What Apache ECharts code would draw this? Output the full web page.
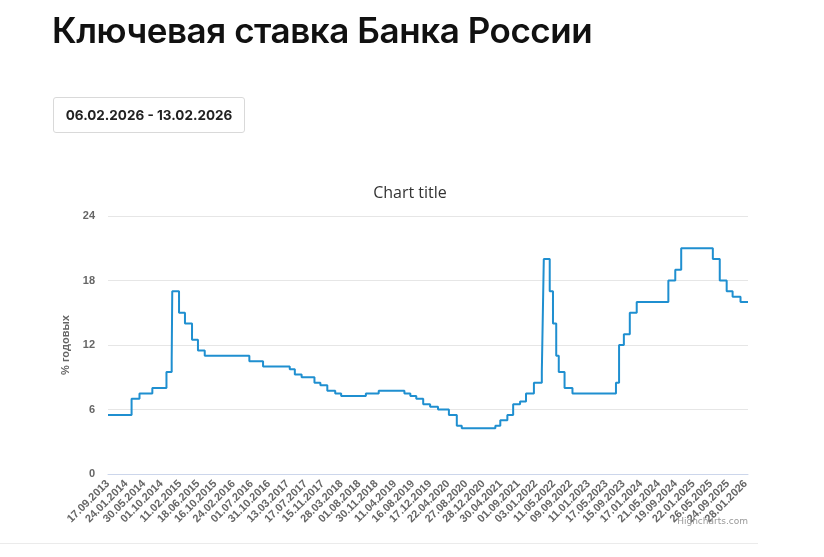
<!DOCTYPE html>
<html>
<head>
<meta charset="utf-8">
<script src="https://cdn.jsdelivr.net/npm/echarts@6/dist/echarts.min.js"></script>
<style>
  html, body { margin: 0; padding: 0; background: #fff; }
  .page { position: relative; width: 824px; height: 557px; overflow: hidden; }
  .page-title {
    position: absolute; left: 52px; top: 9px; margin: 0;
    font-family: Inter, "Noto Sans", sans-serif; font-size: 35px; font-weight: 600;
    color: #111; letter-spacing: -0.45px; white-space: nowrap; z-index: 2;
  }
  .period {
    position: absolute; left: 53px; top: 97px; width: 190px; height: 34px;
    border: 1px solid #d9d9d9; border-radius: 3px; box-sizing: content-box;
    font-family: Inter, "Noto Sans", sans-serif; font-size: 13.5px; font-weight: 700;
    color: #222; line-height: 34px; text-align: center; z-index: 2;
  }
  .sep { position: absolute; left: 0; top: 543px; width: 758px; height: 1px; background: #ebebeb; }
  #rateChart { position: absolute; left: 0; top: 0; width: 824px; height: 557px; }
</style>
</head>
<body>
<div class="page">
  <div id="rateChart"></div>
  <h1 class="page-title">Ключевая ставка Банка России</h1>
  <div class="period">06.02.2026 - 13.02.2026</div>
  <div class="sep"></div>
</div>
<script>
  // даты изменения ключевой ставки и её значения, % годовых
  const rateDates = ['2013-09-17', '2014-03-03', '2014-04-28', '2014-07-28', '2014-11-05', '2014-12-12', '2014-12-16',
    '2015-02-02', '2015-03-16', '2015-05-05', '2015-06-16', '2015-08-03', '2016-06-14', '2016-09-19',
    '2017-03-27', '2017-05-02', '2017-06-19', '2017-09-18', '2017-10-30', '2017-12-18', '2018-02-12',
    '2018-03-26', '2018-09-17', '2018-12-17', '2019-06-17', '2019-07-29', '2019-09-09', '2019-10-28',
    '2019-12-16', '2020-02-10', '2020-04-27', '2020-06-22', '2020-07-27', '2021-03-22', '2021-04-26',
    '2021-06-15', '2021-07-26', '2021-09-13', '2021-10-25', '2021-12-20', '2022-02-14', '2022-02-28',
    '2022-04-11', '2022-05-04', '2022-05-27', '2022-06-14', '2022-07-25', '2022-09-19', '2023-07-24',
    '2023-08-15', '2023-09-18', '2023-10-30', '2023-12-18', '2024-07-29', '2024-09-16', '2024-10-28',
    '2025-06-09', '2025-07-28', '2025-09-15', '2025-10-27', '2025-12-22', '2026-02-13'];
  const rateValues = [5.5, 7, 7.5, 8, 9.5, 10.5, 17,
    15, 14, 12.5, 11.5, 11, 10.5, 10,
    9.75, 9.25, 9, 8.5, 8.25, 7.75, 7.5,
    7.25, 7.5, 7.75, 7.5, 7.25, 7, 6.5,
    6.25, 6, 5.5, 4.5, 4.25, 4.5, 5,
    5.5, 6.5, 6.75, 7.5, 8.5, 9.5, 20,
    17, 14, 11, 9.5, 8, 7.5, 8.5,
    12, 13, 15, 16, 18, 19, 21,
    20, 18, 17, 16.5, 16, 16];

  // подписи оси X
  const tickDates = ['2013-09-17', '2014-01-24', '2014-05-30', '2014-10-01', '2015-02-11', '2015-06-18',
    '2015-10-16', '2016-02-24', '2016-07-01', '2016-10-31', '2017-03-13', '2017-07-17', '2017-11-15',
    '2018-03-28', '2018-08-01', '2018-11-30', '2019-04-11', '2019-08-16', '2019-12-17', '2020-04-22',
    '2020-08-27', '2020-12-28', '2021-04-30', '2021-09-01', '2022-01-03', '2022-05-11', '2022-09-09',
    '2023-01-11', '2023-05-17', '2023-09-15', '2024-01-17', '2024-05-21', '2024-09-19', '2025-01-22',
    '2025-05-26', '2025-09-24', '2026-01-28'];
  const yTicks = [0, 6, 12, 18, 24];

  function toTime(s) {
    let p = s.split('-');
    return new Date(+p[0], +p[1] - 1, +p[2]).getTime();
  }
  function fmt(v) {
    let d = new Date(v);
    let pad = (n) => (n < 10 ? '0' : '') + n;
    return pad(d.getDate()) + '.' + pad(d.getMonth() + 1) + '.' + d.getFullYear();
  }

  let labelColor = '#666666';
  let labelFont = '"Liberation Sans", Arial, sans-serif';
  let myChart = echarts.init(document.getElementById('rateChart'));
  myChart.setOption({
    animation: false,
    title: {
      text: 'Chart title',
      left: 405,
      textAlign: 'center',
      top: 180,
      textStyle: { color: '#333333', fontSize: 16, fontWeight: 'normal', fontFamily: '"Open Sans", sans-serif' }
    },
    grid: { left: 108, right: 76, top: 216, bottom: 83 },
    xAxis: {
      type: 'value',
      min: toTime(rateDates[0]),
      max: toTime(rateDates[rateDates.length - 1]),
      axisLine: { lineStyle: { color: '#ccd6eb' } },
      axisTick: { show: false },
      splitLine: { show: false },
      axisLabel: {
        customValues: tickDates.map(toTime),
        rotate: 45,
        margin: 8,
        showMinLabel: true,
        showMaxLabel: true,
        color: labelColor,
        fontSize: 11,
        fontWeight: 'bold',
        fontFamily: labelFont,
        formatter: (v) => fmt(v)
      }
    },
    yAxis: {
      type: 'value',
      min: yTicks[0],
      max: yTicks[yTicks.length - 1],
      interval: 6,
      name: '% годовых',
      nameLocation: 'middle',
      nameRotate: 90,
      nameGap: 31,
      nameTextStyle: { color: labelColor, fontSize: 11, fontWeight: 'bold', fontFamily: labelFont },
      axisLine: { show: false },
      axisTick: { show: false },
      axisLabel: { color: labelColor, fontSize: 11, fontWeight: 'bold', margin: 13, fontFamily: labelFont },
      splitLine: { lineStyle: { color: '#e6e6e6' } }
    },
    graphic: [{
      type: 'text',
      right: 76,
      top: 517,
      z: 10,
      style: { text: 'Highcharts.com', fill: '#999999', fontSize: 9, fontFamily: '"DejaVu Sans", sans-serif' }
    }],
    series: [{
      type: 'line',
      step: 'end',
      showSymbol: false,
      lineStyle: { color: '#1f8fd0', width: 2 },
      itemStyle: { color: '#1f8fd0' },
      data: rateDates.map((d, i) => [toTime(d), rateValues[i]])
    }]
  });
</script>
</body>
</html>
